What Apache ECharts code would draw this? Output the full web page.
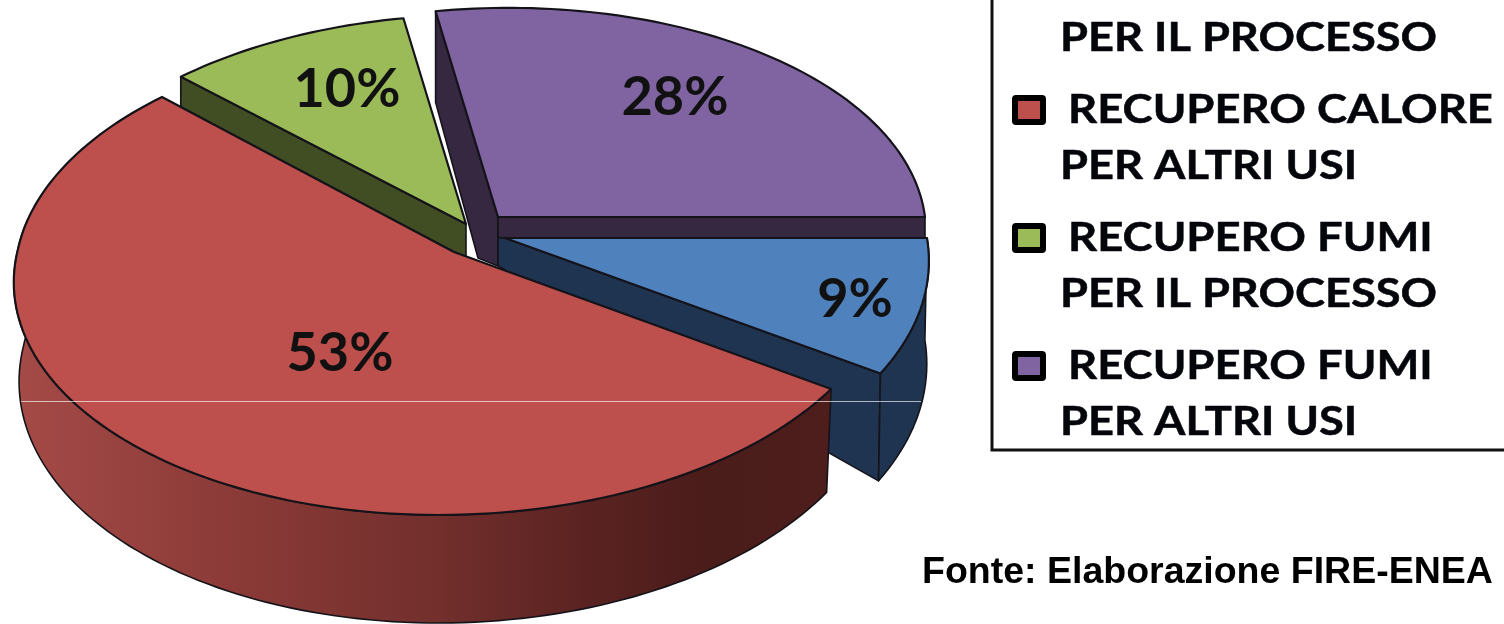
<!DOCTYPE html>
<html><head><meta charset="utf-8">
<style>html,body{margin:0;padding:0;background:#fff;overflow:hidden}#c{width:1504px;height:624px}</style>
<script src="https://cdn.jsdelivr.net/npm/echarts@6/dist/echarts.min.js"></script>
</head><body><div id="c"></div>
<script>
// ---- data ----
const categories = [
  ['RECUPERO CALORE', 'PER IL PROCESSO'],
  ['RECUPERO CALORE', 'PER ALTRI USI'],
  ['RECUPERO FUMI', 'PER IL PROCESSO'],
  ['RECUPERO FUMI', 'PER ALTRI USI']
];
const values = [9, 53, 10, 28];
const percentLabels = ['9%', '53%', '10%', '28%'];
const colors = ['#4f81bd', '#bd4f4c', '#9bbb59', '#8064a2'];
const wallColors = ['#1f3450', '#4d1e1c', '#414d22', '#372842'];
const drawOrder = [2, 3, 0, 1];
const sourceNote = 'Fonte: Elaborazione FIRE-ENEA';

// ---- projection of each exploded slice ----
const K = 0.095;
const geom = [
  {px:505, py:238, R:422, S:240, s:0,   sUp:0,   e:0, lx:350,  ly:62,  ls:0.995},
  {px:454, py:252, R:436, S:238, s:-19, sUp:-10, e:3, lx:-114, ly:102, ls:0.988},
  {px:466, py:224, R:428, S:229, s:-12, sUp:-12, e:0, lx:-119, ly:-134, ls:1},
  {px:498, py:217, R:427, S:229, s:-12, sUp:-12, e:0, lx:177,  ly:-119, ls:1}
];
const total = values.reduce((a, b) => a + b, 0);
const starts = [];
values.reduce((acc, v, i) => { starts[i] = acc; return acc + v; }, 0);
const ang = v => v / total * Math.PI * 2;
function rim(g, t) {
  const u = Math.cos(t), v = Math.sin(t), w = 1 - K * v;
  return [g.px + (g.R * u + (v > 0 ? g.s : g.sUp) * v) / w, g.py + (g.S * v + g.e * u) / w];
}
function arc(g, a, b) {
  const n = Math.max(8, Math.ceil(Math.abs(b - a) * 40)), out = [];
  for (let i = 0; i <= n; i++) out.push(rim(g, a + (b - a) * i / n));
  return out;
}
function lowerRim(g, t, d) {
  const p = rim(g, t);
  return [g.px + (p[0] - g.px) * g.ls, p[1] + d + 10 * Math.sin(t)];
}
const EDGE = '#15131a';
function poly(points, fill, lw) {
  return {type: 'polygon', shape: {points}, style: {fill, stroke: EDGE, lineWidth: lw || 1.6, lineJoin: 'round'}};
}
function renderSlice(params, api) {
  const i = api.value(0), g = geom[i];
  const a = ang(starts[i]), b = a + ang(api.value(1));
  const A = [g.px, g.py], P = rim(g, a), Q = rim(g, b), ch = [];
  const wall = wallColors[i];
  if (i === 2) {               // green: thin inner wall along the leading edge
    ch.push(poly([P, [P[0], P[1] + 34], [A[0], A[1] + 34], A], wall));
  } else if (i === 3) {        // purple: left wall and strip under the right edge
    ch.push(poly([P, [P[0], P[1] + 91], [A[0] - 20, A[1] + 41], [A[0], A[1] + 49], A], wall));
    ch.push(poly([A, Q, [Q[0], Q[1] + 21], [A[0], A[1] + 21]], wall));
  } else if (i === 0) {        // blue: inner wall + outer wall
    ch.push(poly([[A[0] - 7, A[1]], A, Q, lowerRim(g, b, 102), [A[0] - 7, A[1] + 28]], wall));
    const top = arc(g, a, b), low = [];
    for (let j = top.length - 1; j >= 0; j--) low.push(lowerRim(g, a + (b - a) * j / (top.length - 1), 102));
    ch.push(poly(top.concat(low), wall));
  } else {                     // red: outer shaded wall
    const end = Math.min(b, Math.PI * 1.04);
    const top = arc(g, a, end), low = [];
    for (let j = top.length - 1; j >= 0; j--) low.push(lowerRim(g, a + (end - a) * j / (top.length - 1), 98));
    ch.push(poly(top.concat(low), new echarts.graphic.LinearGradient(20, 0, 830, 0, [
      {offset: 0, color: '#a44a47'}, {offset: 0.25, color: '#8c3b38'},
      {offset: 0.5, color: '#74302d'}, {offset: 0.7, color: '#5a2321'},
      {offset: 0.85, color: '#4a1c1a'}, {offset: 1, color: '#4d1e1c'}
    ], true)));
  }
  ch.push(poly([A].concat(arc(g, a, b)), colors[i], 2.2));
  ch.push({type: 'text', style: {
    x: g.px + g.lx, y: g.py + g.ly, text: percentLabels[i], fill: '#111',
    font: '700 54px Lato, "Open Sans", sans-serif', align: 'center', verticalAlign: 'middle'
  }});
  return {type: 'group', children: ch};
}

// ---- legend & notes ----
const legendGraphics = [];
const legendFont = '700 40px Lato, sans-serif';
categories.forEach((lines, i) => {
  legendGraphics.push({type: 'rect', shape: {x: 1015, y: 98 - 128 + 128 * i, width: 28, height: 24, r: 1},
    style: {fill: colors[i], stroke: '#000', lineWidth: 6}});
  legendGraphics.push({type: 'text', x: 1068, y: -18 + 128 * i, scaleX: 1.135,
    style: {text: lines[0], font: legendFont, fill: '#05060c', verticalAlign: 'middle', stroke: '#05060c', lineWidth: 0.5}});
  legendGraphics.push({type: 'text', x: 1060, y: 38 + 128 * i, scaleX: 1.13,
    style: {text: lines[1], font: legendFont, fill: '#05060c', verticalAlign: 'middle', stroke: '#05060c', lineWidth: 0.5}});
});
legendGraphics.push(
  {type: 'polyline', shape: {points: [[992, -4], [992, 450], [1510, 450]]}, style: {fill: null, stroke: '#111', lineWidth: 3}},
  {type: 'text', x: 922, y: 573, style: {text: sourceNote, font: '700 37.5px "Liberation Sans", Arial, sans-serif', fill: '#000', verticalAlign: 'middle'}},
  {type: 'line', z: 100, shape: {x1: 21, y1: 401.5, x2: 921, y2: 401.5}, style: {stroke: '#fff', lineWidth: 1, opacity: 0.65}}
);

const chart = echarts.init(document.getElementById('c'), null, {renderer: 'canvas'});
chart.setOption({
  animation: false,
  backgroundColor: '#fff',
  graphic: {elements: legendGraphics},
  series: [{
    type: 'custom',
    coordinateSystem: 'none',
    renderItem: renderSlice,
    silent: true,
    clip: false,
    data: drawOrder.map(i => [i, values[i]])
  }]
});
</script></body></html>
